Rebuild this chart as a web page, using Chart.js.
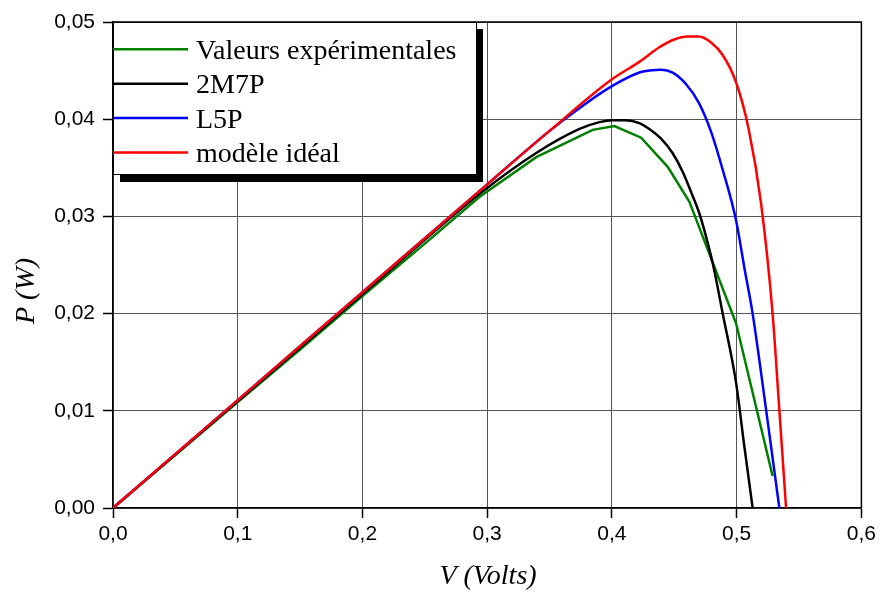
<!DOCTYPE html>
<html>
<head>
<meta charset="utf-8">
<script src="https://cdn.jsdelivr.net/npm/chart.js@4.4.0/dist/chart.umd.min.js"></script>
<style>
  html, body { margin: 0; padding: 0; background: #fff; }
  #wrap { width: 880px; height: 594px; }
</style>
</head>
<body>
<div id="wrap"><canvas id="chart" width="880" height="594"></canvas></div>
<script>
// Axis ticks
const xTicks = [0, 0.1, 0.2, 0.3, 0.4, 0.5, 0.6];
const yTicks = [0, 0.01, 0.02, 0.03, 0.04, 0.05];

const seriesLabels = ['Valeurs expérimentales', '2M7P', 'L5P', 'modèle idéal'];
const seriesColors = ['#008000', '#000000', '#0000ff', '#ff0000'];

// Valeurs expérimentales
const expV = [0, 0.05, 0.1, 0.15, 0.2, 0.25, 0.2937, 0.3393, 0.3846, 0.402, 0.4234, 0.4447, 0.4621, 0.4995, 0.5288];
const expP = [0, 0.00545, 0.0109, 0.0163, 0.0218, 0.0272, 0.0320, 0.0361, 0.0389, 0.0393, 0.0381, 0.0351, 0.0315, 0.0190, 0.0033];

// 2M7P
const m7pV = [0, 0.1, 0.2, 0.2937, 0.339, 0.374, 0.39, 0.4006, 0.411, 0.422, 0.430, 0.4394, 0.4487, 0.4567, 0.4635, 0.4701, 0.4755, 0.4813, 0.4888, 0.4995, 0.5062, 0.5128];
const m7pP = [0, 0.0110, 0.0220, 0.0323, 0.0365, 0.0390, 0.0397, 0.0399, 0.0399, 0.0396, 0.0390, 0.0380, 0.0365, 0.0346, 0.0325, 0.0303, 0.0279, 0.0249, 0.0200, 0.0129, 0.0063, 0];

// L5P
const l5pV = [0, 0.1, 0.2, 0.3, 0.35, 0.38, 0.4, 0.422, 0.430, 0.4394, 0.4487, 0.4595, 0.4696, 0.4795, 0.4888, 0.4995, 0.5062, 0.5128, 0.5236, 0.5342];
const l5pP = [0, 0.0111, 0.0222, 0.0333, 0.0388, 0.0417, 0.0434, 0.0448, 0.0450, 0.0451, 0.0448, 0.0436, 0.0417, 0.0387, 0.0348, 0.0296, 0.0247, 0.0200, 0.0101, 0];

// modèle idéal
const idealV = [0, 0.1, 0.2, 0.3, 0.35, 0.4, 0.422, 0.438, 0.450, 0.4607, 0.4696, 0.4795, 0.4888, 0.4995, 0.5096, 0.5196, 0.5288, 0.5342, 0.5396];
const idealP = [0, 0.0111, 0.0222, 0.0333, 0.0388, 0.0441, 0.0459, 0.0474, 0.0482, 0.0485, 0.0485, 0.0479, 0.0466, 0.0438, 0.0390, 0.0313, 0.0200, 0.0101, 0];

function toPoints(vs, ps) {
  return vs.map((v, i) => ({ x: v, y: ps[i] }));
}

const tickFont = { family: '"Liberation Sans", Arial, sans-serif', size: 21 };
const serif = '"Liberation Serif", "Times New Roman", serif';

const decorPlugin = {
  id: 'decor',
  afterDraw(chart) {
    const ctx = chart.ctx;
    const a = chart.chartArea;
    ctx.save();

    // top and right frame
    ctx.strokeStyle = '#000';
    ctx.lineWidth = 1.5;
    ctx.beginPath();
    ctx.moveTo(a.left, a.top);
    ctx.lineTo(a.right, a.top);
    ctx.lineTo(a.right, a.bottom);
    ctx.stroke();

    // legend box with shadow
    const w = 363, h = 152, sh = 7;
    ctx.fillStyle = '#000';
    ctx.fillRect(a.left + sh, a.top + sh, w, h + 1);
    ctx.fillStyle = '#fff';
    ctx.fillRect(a.left, a.top, w, h);
    ctx.lineWidth = 1;
    ctx.strokeRect(a.left + 0.5, a.top + 0.5, w, h);
    ctx.font = '28px ' + serif;
    ctx.textBaseline = 'alphabetic';
    ctx.textAlign = 'left';
    chart.data.datasets.forEach((ds, i) => {
      const y = a.top + 27.3 + i * 34.4;
      ctx.strokeStyle = ds.borderColor;
      ctx.lineWidth = 2.5;
      ctx.beginPath();
      ctx.moveTo(a.left, y);
      ctx.lineTo(a.left + 75, y);
      ctx.stroke();
      ctx.fillStyle = '#000';
      ctx.fillText(ds.label, a.left + 83, y + 9.5);
    });

    // axis titles
    ctx.font = 'italic 28px ' + serif;
    ctx.fillStyle = '#000';
    ctx.textAlign = 'center';
    ctx.textBaseline = 'middle';
    ctx.fillText('V (Volts)', 488, 577);
    ctx.translate(27, 291);
    ctx.rotate(-Math.PI / 2);
    ctx.fillText('P (W)', 0, 0);
    ctx.restore();
  }
};

const ctx = document.getElementById('chart').getContext('2d');
new Chart(ctx, {
  type: 'line',
  data: {
    datasets: [
      { label: seriesLabels[0], data: toPoints(expV, expP), borderColor: seriesColors[0], order: 3, tension: 0 },
      { label: seriesLabels[1], data: toPoints(m7pV, m7pP), borderColor: seriesColors[1], order: 2, cubicInterpolationMode: 'monotone' },
      { label: seriesLabels[2], data: toPoints(l5pV, l5pP), borderColor: seriesColors[2], order: 1, cubicInterpolationMode: 'monotone' },
      { label: seriesLabels[3], data: toPoints(idealV, idealP), borderColor: seriesColors[3], order: 0, cubicInterpolationMode: 'monotone' }
    ]
  },
  options: {
    responsive: false,
    animation: false,
    devicePixelRatio: 1,
    layout: { padding: { left: 0, top: 22, right: 18, bottom: 0 } },
    elements: {
      point: { radius: 0 },
      line: { borderWidth: 2.5, fill: false }
    },
    plugins: {
      legend: { display: false },
      tooltip: { enabled: false }
    },
    scales: {
      x: {
        type: 'linear',
        min: 0,
        max: 0.6,
        afterBuildTicks: s => { s.ticks = xTicks.map(v => ({ value: v })); },
        afterFit: s => { s.height = 86; },
        ticks: {
          callback: v => v.toFixed(1).replace('.', ','),
          font: tickFont,
          color: '#000',
          padding: 4,
          maxRotation: 0,
          autoSkip: false
        },
        grid: { color: '#555', lineWidth: 1, tickColor: '#000', tickLength: 10, tickWidth: 1.5 },
        border: { color: '#000', width: 1.5 }
      },
      y: {
        type: 'linear',
        min: 0,
        max: 0.05,
        afterBuildTicks: s => { s.ticks = yTicks.map(v => ({ value: v })); },
        afterFit: s => { s.width = 113; },
        ticks: {
          callback: v => v.toFixed(2).replace('.', ','),
          font: tickFont,
          color: '#000',
          padding: 8,
          autoSkip: false
        },
        grid: { color: '#555', lineWidth: 1, tickColor: '#000', tickLength: 10, tickWidth: 1.5 },
        border: { color: '#000', width: 1.5 }
      }
    }
  },
  plugins: [decorPlugin]
});
</script>
</body>
</html>
